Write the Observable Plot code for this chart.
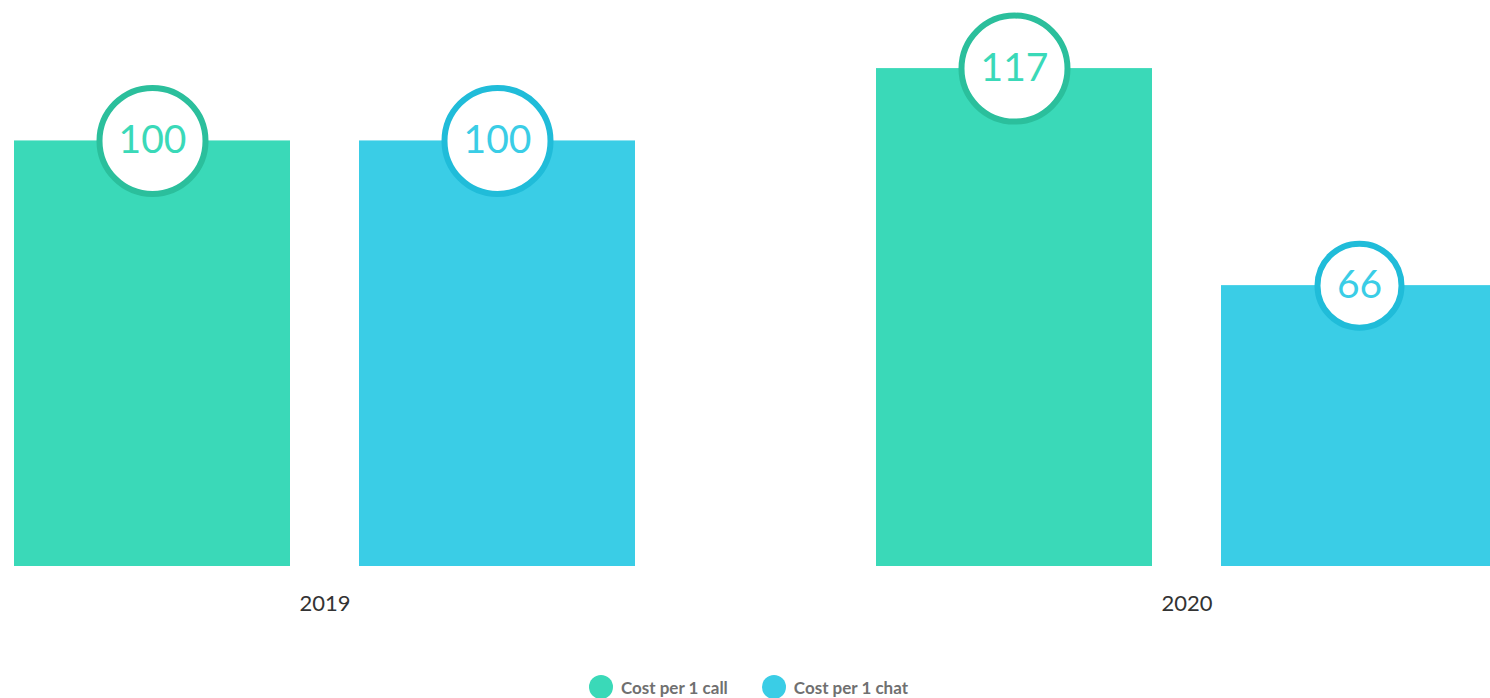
<!DOCTYPE html>
<html>
<head>
<meta charset="utf-8">
<script src="https://cdn.jsdelivr.net/npm/d3@7"></script>
<script src="https://cdn.jsdelivr.net/npm/@observablehq/plot@0.6"></script>
<style>
  html, body { margin: 0; padding: 0; background: #fff; overflow: hidden; }
  #chart { width: 1497px; }
  #chart svg { display: block; max-width: none !important; }
  .legend { width: 1497px; display: flex; justify-content: center; align-items: center; gap: 34px; margin-top: 5px;
            font-family: "Source Sans Pro", Lato, "Open Sans", sans-serif; font-size: 17px; font-weight: 700; color: #707070; }
  .legend span.item { display: inline-flex; align-items: center; }
  .legend span.sw { width: 24px; height: 24px; border-radius: 50%; display: inline-block; margin-right: 8px; }
</style>
</head>
<body>
<div id="chart"></div>
<script>
const years = ["2019", "2020"];
const series = ["Cost per 1 call", "Cost per 1 chat"];
const callValues = [100, 117];
const chatValues = [100, 66];
const barColors = ["#3ad9b8", "#3acde6"];
const ringColors = ["#2bbf9c", "#20bcd9"];

const data = [];
years.forEach((y, i) => {
  data.push({year: y, series: series[0], value: callValues[i]});
  data.push({year: y, series: series[1], value: chatValues[i]});
});

const font = "'Source Sans Pro', Lato, 'Open Sans', sans-serif";
const chart = Plot.plot({
  width: 1497,
  height: 670,
  marginLeft: 14,
  marginRight: 0,
  marginTop: 0,
  marginBottom: 104,
  style: {fontFamily: font, background: "#fff", maxWidth: "none"},
  fx: {domain: years, paddingInner: 0.28, paddingOuter: 0, label: null},
  x: {domain: series, paddingInner: 0.2, paddingOuter: 0, axis: null},
  y: {domain: [0, 133], axis: null},
  color: {domain: series, range: barColors},
  r: {type: "identity"},
  marks: [
    Plot.axisFx({anchor: "bottom", tickSize: 0, tickPadding: 29, fontSize: 22, fill: "#333", label: null}),
    Plot.barY(data, {fx: "year", x: "series", y: "value", fill: "series"}),
    Plot.dot(data, {fx: "year", x: "series", y: "value",
      r: d => String(d.value).length > 2 ? 53 : 42,
      fill: "#fff", strokeWidth: 6,
      stroke: d => ringColors[series.indexOf(d.series)]}),
    Plot.text(data, {fx: "year", x: "series", y: "value", text: d => String(d.value),
      fontSize: 39, fill: d => barColors[series.indexOf(d.series)], fontFamily: font})
  ]
});
document.getElementById("chart").appendChild(chart);

const legend = document.createElement("div");
legend.className = "legend";
series.forEach((s, i) => {
  const item = document.createElement("span");
  item.className = "item";
  const sw = document.createElement("span");
  sw.className = "sw";
  sw.style.background = barColors[i];
  item.appendChild(sw);
  item.appendChild(document.createTextNode(s));
  legend.appendChild(item);
});
document.body.appendChild(legend);
</script>
</body>
</html>
